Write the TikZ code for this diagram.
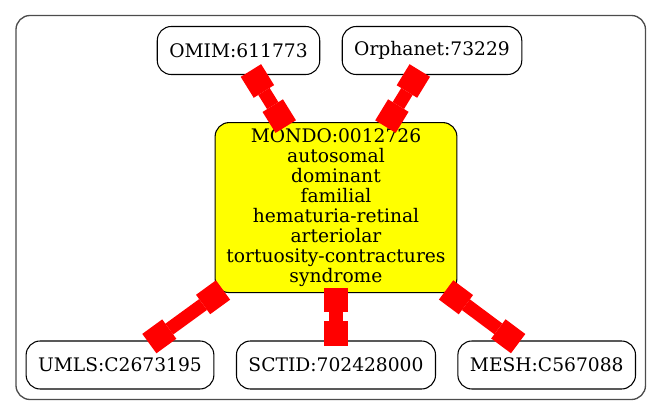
\documentclass[tikz,border=0pt]{standalone}
\usepackage{fontspec}
\setmainfont{DejaVu Serif}
\usetikzlibrary{arrows.meta}
\definecolor{termyellow}{RGB}{255,255,0}
\definecolor{linkred}{RGB}{255,0,0}

\begin{document}
\begin{tikzpicture}[x=0.75pt,y=-0.75pt,
		term/.style={draw=black, line width=0.8pt, rounded corners=10.5pt, inner xsep=9pt, minimum height=36pt, font=\fontsize{14}{15}\selectfont},
		disease/.style={term, fill=termyellow, align=center, inner xsep=8.5pt, minimum height=127.5pt},
		link/.style={linkred, line width=10pt, {Rectangle[length=18.5pt,width=18pt,line width=0pt]}-{Rectangle[length=18.5pt,width=18pt,line width=0pt]}, shorten <=-4pt, shorten >=-4pt}]
		\useasboundingbox (0,0) rectangle (661,416);
		\draw [black!70, line width=1pt, rounded corners=10.5pt] (16,15.5) rectangle (645.5,399.5);
		% nodes
		\node [term] (omim) at (238.5,50.5) {OMIM:611773};
		\node [term] (orphanet) at (432,50.5) {Orphanet:73229};
		\node [disease] (mondo) at (336,207.6) {MONDO:0012726\\autosomal\\dominant\\familial\\hematuria-retinal\\arteriolar\\tortuosity-contractures\\syndrome};
		\node [term] (umls) at (120,365) {UMLS:C2673195};
		\node [term] (sctid) at (336,365) {SCTID:702428000};
		\node [term] (mesh) at (546.7,365) {MESH:C567088};
		% links
		\draw [link] (omim) -- (mondo);
		\draw [link] (orphanet) -- (mondo);
		\draw [link] (mondo) -- (umls);
		\draw [link] (mondo) -- (sctid);
		\draw [link] (mondo) -- (mesh);
\end{tikzpicture}
\end{document}
